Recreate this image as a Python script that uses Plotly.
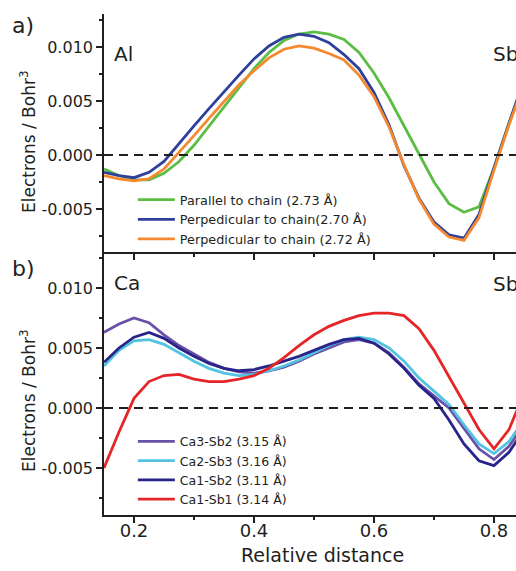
import plotly.graph_objects as go

# ---------------- data ----------------
x_vals = [0.150, 0.175, 0.200, 0.225, 0.250, 0.275, 0.300, 0.325, 0.350, 0.375,
          0.400, 0.425, 0.450, 0.475, 0.500, 0.525, 0.550, 0.575, 0.600, 0.625,
          0.650, 0.675, 0.700, 0.725, 0.750, 0.775, 0.800, 0.825, 0.850]

# panel a (Al - Sb)
a_names = ["Parallel to chain (2.73 Å)", "Perpedicular to chain(2.70 Å)", "Perpedicular to chain (2.72 Å)"]
a_parallel = [-0.0013, -0.0019, -0.0023, -0.0023, -0.0017, -0.0006, 0.0009, 0.0027, 0.0045, 0.0063,
              0.0080, 0.0095, 0.0106, 0.0112, 0.0114, 0.0112, 0.0107, 0.0095, 0.0076, 0.0053,
              0.0027, 0.0001, -0.0025, -0.0045, -0.0053, -0.0048, -0.0012, 0.0030, 0.0068]
a_perp270 = [-0.0016, -0.0019, -0.0021, -0.0016, -0.0006, 0.0011, 0.0027, 0.0043, 0.0059, 0.0074,
             0.0089, 0.0101, 0.0109, 0.0112, 0.0110, 0.0104, 0.0093, 0.0080, 0.0058, 0.0028,
             -0.0010, -0.0040, -0.0062, -0.0074, -0.0077, -0.0055, -0.0012, 0.0030, 0.0070]
a_perp272 = [-0.0019, -0.0022, -0.0024, -0.0022, -0.0013, 0.0002, 0.0018, 0.0034, 0.0050, 0.0065,
             0.0078, 0.0090, 0.0098, 0.0101, 0.0099, 0.0094, 0.0088, 0.0074, 0.0054, 0.0026,
             -0.0009, -0.0041, -0.0064, -0.0076, -0.0079, -0.0058, -0.0014, 0.0028, 0.0066]

# panel b (Ca - Sb)
b_names = ["Ca3-Sb2 (3.15 Å)", "Ca2-Sb3 (3.16 Å)", "Ca1-Sb2 (3.11 Å)", "Ca1-Sb1 (3.14 Å)"]
b_ca3sb2 = [0.0063, 0.0070, 0.0075, 0.0071, 0.0061, 0.0052, 0.0045, 0.0038, 0.0033, 0.0030,
            0.0029, 0.0031, 0.0034, 0.0039, 0.0045, 0.0050, 0.0055, 0.0057, 0.0054, 0.0046,
            0.0034, 0.0020, 0.0010, 0.0000, -0.0017, -0.0034, -0.0043, -0.0032, -0.0014]
b_ca2sb3 = [0.0035, 0.0048, 0.0056, 0.0057, 0.0053, 0.0046, 0.0039, 0.0033, 0.0029, 0.0027,
            0.0028, 0.0031, 0.0035, 0.0040, 0.0046, 0.0052, 0.0057, 0.0059, 0.0057, 0.0050,
            0.0039, 0.0025, 0.0014, 0.0003, -0.0014, -0.0030, -0.0038, -0.0028, -0.0010]
b_ca1sb2 = [0.0038, 0.0050, 0.0059, 0.0063, 0.0058, 0.0050, 0.0043, 0.0037, 0.0033, 0.0031,
            0.0032, 0.0035, 0.0039, 0.0043, 0.0048, 0.0053, 0.0057, 0.0058, 0.0054, 0.0045,
            0.0033, 0.0019, 0.0008, -0.0010, -0.0030, -0.0044, -0.0048, -0.0037, -0.0018]
b_ca1sb1 = [-0.0050, -0.0020, 0.0008, 0.0022, 0.0027, 0.0028, 0.0024, 0.0022, 0.0022, 0.0024,
            0.0027, 0.0033, 0.0042, 0.0052, 0.0061, 0.0068, 0.0073, 0.0077, 0.0079, 0.0079,
            0.0077, 0.0066, 0.0048, 0.0026, 0.0005, -0.0018, -0.0034, -0.0018, 0.0012]

y_tickvals = [-0.005, 0.000, 0.005, 0.010]
y_ticktext = ["-0.005", "0.000", "0.005", "0.010"]
y_minor = [-0.0075, -0.0025, 0.0025, 0.0075, 0.0125]
x_tickvals = [0.2, 0.4, 0.6, 0.8]
x_ticktext = ["0.2", "0.4", "0.6", "0.8"]
x_minor = [0.3, 0.5, 0.7]

a_colors = ["#5cbd45", "#2f3f9c", "#f5892f"]
b_colors = ["#6a50a6", "#52c4e2", "#28248a", "#e52629"]

FONT = "DejaVu Sans"
INK = "#231f20"

fig = go.Figure()
for name, ys, col in zip(a_names, [a_parallel, a_perp270, a_perp272], a_colors):
    fig.add_trace(go.Scatter(x=x_vals, y=ys, name=name, mode="lines",
                             line=dict(color=col, width=2.8), xaxis="x", yaxis="y",
                             legend="legend"))
for name, ys, col in zip(b_names, [b_ca3sb2, b_ca2sb3, b_ca1sb2, b_ca1sb1], b_colors):
    fig.add_trace(go.Scatter(x=x_vals, y=ys, name=name, mode="lines",
                             line=dict(color=col, width=2.8), xaxis="x2", yaxis="y2",
                             legend="legend2"))

xr = [0.15, 0.8367]
common_x = dict(range=xr, showgrid=False, zeroline=False, showline=True, linecolor=INK,
                linewidth=1.6, tickcolor=INK, tickwidth=1.6, tickmode="array",
                tickvals=x_tickvals, ticktext=x_ticktext)
common_y = dict(showgrid=False, zeroline=False, showline=True, linecolor=INK, linewidth=1.6,
                tickcolor=INK, tickwidth=1.6, ticks="outside", ticklen=6, tickmode="array",
                tickvals=y_tickvals, ticktext=y_ticktext,
                tickfont=dict(family=FONT, size=16, color=INK),
                minor=dict(tickvals=y_minor, ticks="outside", ticklen=3.5, tickcolor=INK, tickwidth=1.6))

fig.update_layout(
    width=516, height=571,
    margin=dict(l=104, r=0, t=14, b=56),
    paper_bgcolor="white", plot_bgcolor="white",
    font=dict(family=FONT, color=INK),
    xaxis=dict(**common_x, anchor="y", ticks="outside", ticklen=6, showticklabels=False,
               minor=dict(tickvals=x_minor, ticks="outside", ticklen=3.5, tickcolor=INK, tickwidth=1.6)),
    xaxis3=dict(**common_x, anchor="y", overlaying="x", side="top", ticks="inside", ticklen=6,
                showticklabels=False,
                minor=dict(tickvals=x_minor, ticks="inside", ticklen=3.5, tickcolor=INK, tickwidth=1.6)),
    yaxis=dict(**common_y, domain=[0.525, 1], range=[-0.00898, 0.01306], anchor="x"),
    xaxis2=dict(**common_x, anchor="y2", ticks="outside", ticklen=6, showticklabels=True,
                ticklabelstandoff=-7,
                tickfont=dict(family=FONT, size=18, color=INK),
                minor=dict(tickvals=x_minor, ticks="outside", ticklen=3.5, tickcolor=INK, tickwidth=1.6)),
    yaxis2=dict(**common_y, domain=[0, 0.525], range=[-0.00892, 0.0130], anchor="x2"),
    legend=dict(x=0.07, y=0.659, xanchor="left", yanchor="top", bgcolor="rgba(0,0,0,0)",
                font=dict(family=FONT, size=12.8, color=INK), tracegroupgap=0, itemwidth=37),
    legend2=dict(x=0.07, y=0.176, xanchor="left", yanchor="top", bgcolor="rgba(0,0,0,0)",
                 font=dict(family=FONT, size=12.5, color=INK), tracegroupgap=0, itemwidth=37),
    showlegend=True,
)

# dashed zero lines
for xref, yref in [("x domain", "y"), ("x2 domain", "y2")]:
    fig.add_shape(type="line", xref=xref, yref=yref, x0=0, x1=1, y0=0, y1=0,
                  line=dict(color=INK, width=2, dash="9px,6px"))

def px_x(p):
    return (p - 104) / 412.0

def px_y(p):
    return (571 - 56 - p) / 501.0

annots = [
    ("a)", 23, 25, 22, "center"),
    ("b)", 23, 268, 22, "center"),
    ("Al", 112, 54, 20, "left"),
    ("Ca", 112, 283, 20, "left"),
    ("Sb", 491, 54, 20, "left"),
    ("Sb", 491, 284, 20, "left"),
]
for txt, x, y, size, anchor in annots:
    fig.add_annotation(text=txt, x=px_x(x), y=px_y(y), xref="paper", yref="paper",
                       xanchor=anchor, yanchor="middle", showarrow=False,
                       font=dict(family=FONT, size=size, color=INK))

for yc in [142, 401]:
    fig.add_annotation(text="Electrons / Bohr<sup>3</sup>", x=px_x(28), y=px_y(yc),
                       xref="paper", yref="paper", xanchor="center", yanchor="middle",
                       textangle=-90, showarrow=False, font=dict(family=FONT, size=17, color=INK))

fig.add_annotation(text="Relative distance", x=px_x(322), y=px_y(555), xref="paper", yref="paper",
                   xanchor="center", yanchor="middle", showarrow=False,
                   font=dict(family=FONT, size=19, color=INK))

fig.write_html("out.html")
